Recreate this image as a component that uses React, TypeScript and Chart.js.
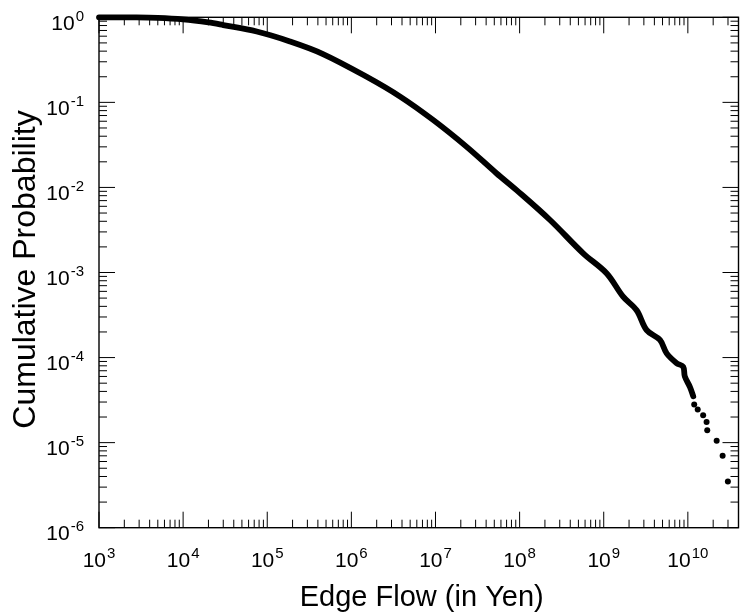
import { useEffect, useRef } from 'react';
import { Chart, registerables } from 'chart.js';

Chart.register(...registerables);

// Dense part of the cumulative distribution
const flowYen = [
  1e3, 2.5e3, 5e3, 1e4, 2e4, 3.0e4, 7.5e4, 1.86e5, 4.6e5, 1.52e6, 3.8e6, 9.4e6,
  2.35e7, 5.3e7, 9.2e7, 2.3e8, 5.7e8, 1.08e9, 1.7e9, 2.46e9, 3.24e9, 4.66e9,
  5.6e9, 7.36e9, 8.8e9, 9.2e9, 1.06e10, 1.16e10,
];
const cumProb = [
  1.0, 0.997, 0.985, 0.945, 0.87, 0.81, 0.68, 0.52, 0.37, 0.2, 0.117, 0.062,
  0.03, 0.0147, 0.0093, 0.00414, 0.00168, 0.00098, 5.2e-4, 3.6e-4, 2.1e-4, 1.61e-4,
  1.12e-4, 8.6e-5, 7.8e-5, 6.0e-5, 4.5e-5, 3.5e-5,
];
// Sparse tail points
const tailFlowYen = [1.19e10, 1.31e10, 1.52e10, 1.67e10, 1.7e10, 2.2e10, 2.59e10, 2.99e10];
const tailCumProb = [2.8e-5, 2.46e-5, 2.1e-5, 1.75e-5, 1.4e-5, 1.05e-5, 7.0e-6, 3.5e-6];

const xExponents = [3, 4, 5, 6, 7, 8, 9, 10];
const yExponents = [0, -1, -2, -3, -4, -5, -6];
const xTitle = 'Edge Flow (in Yen)';
const yTitle = 'Cumulative Probability';

const X_MIN = 1e3;
const X_MAX = 4e10;
const Y_MIN = 1e-6;
const Y_MAX = 1;

const FONT = '"Liberation Sans", Arial, Helvetica, sans-serif';

function tickValues(min: number, max: number) {
  const out: { v: number; major: boolean }[] = [];
  const e0 = Math.floor(Math.log10(min));
  const e1 = Math.ceil(Math.log10(max));
  for (let e = e0; e <= e1; e++) {
    for (let m = 1; m <= 9; m++) {
      const v = m * Math.pow(10, e);
      if (v >= min * 0.9999 && v <= max * 1.0001) out.push({ v, major: m === 1 });
    }
  }
  return out;
}

const framePlugin = {
  id: 'frameTicks',
  beforeDatasetsDraw(chart: any) {
    const { ctx, chartArea } = chart;
    const { left, right, top, bottom } = chartArea;
    const xs = chart.scales.x;
    const ys = chart.scales.y;
    ctx.save();
    ctx.strokeStyle = '#000';
    ctx.lineWidth = 1;
    for (const t of tickValues(X_MIN, X_MAX)) {
      const px = xs.getPixelForValue(t.v);
      const len = t.major ? 16 : 8;
      ctx.beginPath();
      ctx.moveTo(px, bottom);
      ctx.lineTo(px, bottom - len);
      ctx.moveTo(px, top);
      ctx.lineTo(px, top + len);
      ctx.stroke();
    }
    for (const t of tickValues(Y_MIN, Y_MAX)) {
      const py = ys.getPixelForValue(t.v);
      const len = t.major ? 16 : 8;
      ctx.beginPath();
      ctx.moveTo(left, py);
      ctx.lineTo(left + len, py);
      ctx.moveTo(right, py);
      ctx.lineTo(right - len, py);
      ctx.stroke();
    }
    ctx.lineWidth = 1.4;
    ctx.strokeRect(left, top, right - left, bottom - top);
    ctx.restore();
  },
  afterDraw(chart: any) {
    const { ctx, chartArea } = chart;
    const { left, right, top, bottom } = chartArea;
    const xs = chart.scales.x;
    const ys = chart.scales.y;
    ctx.save();
    ctx.fillStyle = '#000';
    ctx.textBaseline = 'alphabetic';
    ctx.textAlign = 'left';
    const baseFont = `21px ${FONT}`;
    const expFont = `15px ${FONT}`;
    const gap = 1;
    const raise = 9;
    const measure = (e: number) => {
      ctx.font = baseFont;
      const wb = ctx.measureText('10').width;
      ctx.font = expFont;
      const we = ctx.measureText(String(e)).width;
      return { wb, we, total: wb + gap + we };
    };
    const drawPow = (e: number, x0: number, baseline: number) => {
      const m = measure(e);
      ctx.font = baseFont;
      ctx.fillText('10', x0, baseline);
      ctx.font = expFont;
      ctx.fillText(String(e), x0 + m.wb + gap, baseline - raise);
    };
    for (const e of xExponents) {
      const px = xs.getPixelForValue(Math.pow(10, e));
      const m = measure(e);
      drawPow(e, px - m.total / 2, bottom + 39);
    }
    for (const e of yExponents) {
      const py = ys.getPixelForValue(Math.pow(10, e));
      const m = measure(e);
      drawPow(e, left - 15 - m.total, py + 12.5);
    }
    // axis titles
    ctx.font = `29px ${FONT}`;
    ctx.textAlign = 'center';
    ctx.fillText(xTitle, (left + right) / 2 + 3, bottom + 78);
    ctx.save();
    ctx.translate(35, (top + bottom) / 2 - 3);
    ctx.rotate(-Math.PI / 2);
    ctx.font = `32px ${FONT}`;
    ctx.textAlign = 'center';
    ctx.fillText(yTitle, 0, 0);
    ctx.restore();
    ctx.restore();
  },
};

export default function App() {
  const canvasRef = useRef<HTMLCanvasElement | null>(null);

  useEffect(() => {
    const canvas = canvasRef.current;
    if (!canvas) return;
    const chart = new Chart(canvas, {
      type: 'scatter',
      data: {
        datasets: [
          {
            data: flowYen.map((x, i) => ({ x, y: cumProb[i] })),
            showLine: true,
            borderColor: '#000',
            backgroundColor: '#000',
            borderWidth: 5.8,
            pointRadius: 0,
            tension: 0.35,
            borderCapStyle: 'round',
            borderJoinStyle: 'round',
            clip: false,
          } as any,
          {
            data: tailFlowYen.map((x, i) => ({ x, y: tailCumProb[i] })),
            showLine: false,
            pointRadius: 3,
            pointBorderWidth: 0,
            pointBackgroundColor: '#000',
            backgroundColor: '#000',
            borderColor: '#000',
            clip: false,
          } as any,
        ],
      },
      options: {
        animation: false,
        responsive: false,
        devicePixelRatio: 1,
        layout: { padding: { left: 99, right: 4.5, top: 17.3, bottom: 88.3 } },
        plugins: { legend: { display: false }, tooltip: { enabled: false } },
        scales: {
          x: { type: 'logarithmic', min: X_MIN, max: X_MAX, display: false },
          y: { type: 'logarithmic', min: Y_MIN, max: Y_MAX, display: false },
        },
      },
      plugins: [framePlugin],
    });
    return () => chart.destroy();
  }, []);

  return (
    <div style={{ position: 'fixed', left: 0, top: 0, width: 743, height: 616, background: '#fff' }}>
      <canvas ref={canvasRef} width={743} height={616} style={{ display: 'block', width: 743, height: 616 }} />
    </div>
  );
}
